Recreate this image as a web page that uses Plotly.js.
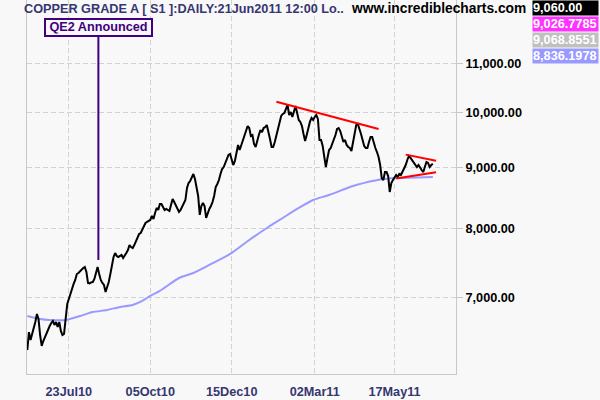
<!DOCTYPE html>
<html>
<head>
<meta charset="utf-8">
<script src="https://cdn.plot.ly/plotly-3.0.1.min.js"></script>
<style>html,body{margin:0;padding:0;background:#f8f8f8;}#chart{width:600px;height:400px;}</style>
</head>
<body>
<div id="chart"></div>
<script>
// ---- Data ----
var priceDates = ["2010-06-17","2010-06-18","2010-06-21","2010-06-22","2010-06-23","2010-06-24","2010-06-25","2010-06-28","2010-06-29","2010-06-30","2010-07-01","2010-07-02","2010-07-05","2010-07-06","2010-07-07","2010-07-08","2010-07-09","2010-07-12","2010-07-13","2010-07-14","2010-07-15","2010-07-16","2010-07-19","2010-07-20","2010-07-21","2010-07-22","2010-07-23","2010-07-26","2010-07-27","2010-07-28","2010-07-29","2010-07-30","2010-08-02","2010-08-03","2010-08-04","2010-08-05","2010-08-06","2010-08-09","2010-08-10","2010-08-11","2010-08-12","2010-08-13","2010-08-16","2010-08-17","2010-08-18","2010-08-19","2010-08-20","2010-08-23","2010-08-24","2010-08-25","2010-08-26","2010-08-27","2010-08-31","2010-09-01","2010-09-02","2010-09-03","2010-09-06","2010-09-07","2010-09-08","2010-09-09","2010-09-10","2010-09-13","2010-09-14","2010-09-15","2010-09-16","2010-09-17","2010-09-20","2010-09-21","2010-09-22","2010-09-23","2010-09-24","2010-09-27","2010-09-28","2010-09-29","2010-09-30","2010-10-01","2010-10-04","2010-10-05","2010-10-06","2010-10-07","2010-10-08","2010-10-11","2010-10-12","2010-10-13","2010-10-14","2010-10-15","2010-10-18","2010-10-19","2010-10-20","2010-10-21","2010-10-22","2010-10-25","2010-10-26","2010-10-27","2010-10-28","2010-10-29","2010-11-01","2010-11-02","2010-11-03","2010-11-04","2010-11-05","2010-11-08","2010-11-09","2010-11-10","2010-11-11","2010-11-12","2010-11-15","2010-11-16","2010-11-17","2010-11-18","2010-11-19","2010-11-22","2010-11-23","2010-11-24","2010-11-25","2010-11-26","2010-11-29","2010-11-30","2010-12-01","2010-12-02","2010-12-03","2010-12-06","2010-12-07","2010-12-08","2010-12-09","2010-12-10","2010-12-13","2010-12-14","2010-12-15","2010-12-16","2010-12-17","2010-12-20","2010-12-21","2010-12-22","2010-12-23","2010-12-24","2010-12-29","2010-12-30","2010-12-31","2011-01-04","2011-01-05","2011-01-06","2011-01-07","2011-01-10","2011-01-11","2011-01-12","2011-01-13","2011-01-14","2011-01-17","2011-01-18","2011-01-19","2011-01-20","2011-01-21","2011-01-24","2011-01-25","2011-01-26","2011-01-27","2011-01-28","2011-01-31","2011-02-01","2011-02-02","2011-02-03","2011-02-04","2011-02-07","2011-02-08","2011-02-09","2011-02-10","2011-02-11","2011-02-14","2011-02-15","2011-02-16","2011-02-17","2011-02-18","2011-02-21","2011-02-22","2011-02-23","2011-02-24","2011-02-25","2011-02-28","2011-03-01","2011-03-02","2011-03-03","2011-03-04","2011-03-07","2011-03-08","2011-03-09","2011-03-10","2011-03-11","2011-03-14","2011-03-15","2011-03-16","2011-03-17","2011-03-18","2011-03-21","2011-03-22","2011-03-23","2011-03-24","2011-03-25","2011-03-28","2011-03-29","2011-03-30","2011-03-31","2011-04-01","2011-04-04","2011-04-05","2011-04-06","2011-04-07","2011-04-08","2011-04-11","2011-04-12","2011-04-13","2011-04-14","2011-04-15","2011-04-18","2011-04-19","2011-04-20","2011-04-21","2011-04-26","2011-04-27","2011-04-28","2011-05-03","2011-05-04","2011-05-05","2011-05-06","2011-05-09","2011-05-10","2011-05-11","2011-05-12","2011-05-13","2011-05-16","2011-05-17","2011-05-18","2011-05-19","2011-05-20","2011-05-23","2011-05-24","2011-05-25","2011-05-26","2011-05-27","2011-05-31","2011-06-01","2011-06-02","2011-06-03","2011-06-06","2011-06-07","2011-06-08","2011-06-09","2011-06-10","2011-06-13","2011-06-14","2011-06-15","2011-06-16","2011-06-17","2011-06-20","2011-06-21"];
var priceValues = [6329,6550,6451,6530,6577,6680,6783,6718,6514,6378,6439,6489,6540,6577,6628,6667,6692,6641,6680,6615,6680,6565,6514,6527,6757,6916,6983,7051,7146,7188,7243,7327,7341,7370,7384,7413,7427,7356,7202,7195,7210,7215,7257,7356,7427,7327,7243,7202,7174,7078,7146,7215,7327,7456,7572,7630,7586,7572,7586,7601,7557,7586,7630,7674,7748,7718,7703,7748,7809,7855,7915,7930,7991,8038,8085,8101,8117,8132,8195,8148,8243,8322,8290,8386,8386,8338,8290,8306,8290,8274,8370,8467,8418,8354,8290,8259,8290,8338,8402,8451,8649,8732,8766,8834,8885,8800,8665,8517,8211,8354,8402,8354,8163,8243,8306,8354,8418,8517,8665,8716,8783,8885,8971,9006,9076,9147,9218,9236,9129,9041,9112,9253,9397,9306,9397,9488,9597,9672,9747,9709,9561,9579,9415,9361,9488,9579,9672,9634,9709,9728,9766,9653,9506,9361,9361,9452,9579,9672,9824,9937,9976,9995,10073,10150,9956,10014,9918,10053,10131,9995,9862,9824,9747,9597,9470,9579,9728,9824,9900,9862,9918,9956,9880,9488,9488,9379,9182,9006,9165,9306,9342,9415,9488,9579,9691,9709,9653,9524,9452,9488,9397,9361,9342,9288,9452,9634,9766,9785,9709,9597,9488,9379,9342,9342,9452,9543,9543,9433,9342,9270,9182,9041,8817,8783,8919,8919,8851,8583,8732,8783,8834,8868,8834,8885,8868,8919,8971,9041,9129,9200,9165,9129,9076,9059,9006,9041,8989,8954,8919,8989,9094,9076,9006,9041,9060];

var maDates = ["2010-06-17","2010-06-29","2010-07-07","2010-07-21","2010-08-03","2010-08-13","2010-08-26","2010-09-08","2010-09-20","2010-09-28","2010-10-05","2010-10-13","2010-10-29","2010-11-11","2010-11-25","2010-12-14","2011-01-04","2011-01-20","2011-02-02","2011-02-16","2011-03-01","2011-03-15","2011-04-01","2011-04-07","2011-05-04","2011-05-18","2011-05-31","2011-06-21"];
var maValues = [6757,6718,6705,6705,6757,6809,6836,6876,6903,6957,7024,7092,7271,7341,7456,7616,7824,8022,8163,8322,8451,8533,8666,8699,8791,8817,8820,8836];

var trendTopDates = ["2011-01-27","2011-05-03"];
var trendTopValues = [10215,9691];
var triUpperDates = ["2011-05-26","2011-06-23"];
var triUpperValues = [9224,9115];
var triLowerDates = ["2011-05-18","2011-06-23"];
var triLowerValues = [8808,8915];

var tickDates = ["2010-07-23","2010-10-05","2010-12-15","2011-03-02","2011-05-17"];
var tickLabels = ["23Jul10","05Oct10","15Dec10","02Mar11","17May11"];
var yTickValues = [7000,8000,9000,10000,11000];
var yTickLabels = ["7,000.00","8,000.00","9,000.00","10,000.00","11,000.00"];

var holidays = ["2010-08-30","2010-12-27","2010-12-28","2011-01-03","2011-04-22","2011-04-25","2011-04-29","2011-05-02","2011-05-30"];

var readouts = ["9,060.00","9,026.7785","9,068.8551","8,836.1978"];
var readoutColors = ["#000000","#ff33ff","#c0c0c0","#9999ff"];

var qe2Date = "2010-08-18 12:00";
var qe2Value = 7528;

var titleText = "COPPER GRADE A [ S1 ]:DAILY:21Jun2011 12:00 Lo..";
var siteText = "www.incrediblecharts.com";

// ---- Chart ----
var FONT = "'Liberation Sans', Arial, Helvetica, sans-serif";
var navy = "#363670";
var purple = "#40007f";

var traces = [
  {x: maDates, y: maValues, type: "scatter", mode: "lines",
   line: {color: "#9999ff", width: 2, shape: "spline", smoothing: 0.6}, hoverinfo: "skip"},
  {x: priceDates, y: priceValues, type: "scatter", mode: "lines",
   line: {color: "#000000", width: 2}, hoverinfo: "skip"},
  {x: trendTopDates, y: trendTopValues, type: "scatter", mode: "lines",
   line: {color: "#ff0000", width: 2}, hoverinfo: "skip"},
  {x: triUpperDates, y: triUpperValues, type: "scatter", mode: "lines",
   line: {color: "#ff0000", width: 2}, hoverinfo: "skip"},
  {x: triLowerDates, y: triLowerValues, type: "scatter", mode: "lines",
   line: {color: "#ff0000", width: 2}, hoverinfo: "skip"}
];

var L = 27, R = 456, T = 0, B = 374;
function px(xp) { return (xp - L) / (R - L); }
function py(yp) { return (B - yp) / (B - T); }

var annotations = [
  {xref: "paper", yref: "paper", x: px(21.5), y: py(8.6), xanchor: "left", yanchor: "middle",
   text: "<b>" + titleText + "</b>", showarrow: false,
   font: {family: FONT, size: 12.7, color: navy}},
  {xref: "paper", yref: "paper", x: px(349), y: py(8.6), xanchor: "left", yanchor: "middle",
   text: "<b>" + siteText + "</b>", showarrow: false,
   font: {family: FONT, size: 13.8, color: "#000000"}},
  {xref: "x", yref: "y", x: qe2Date, y: Math.log10(qe2Value),
   text: "<b>QE2 Announced</b>", showarrow: true, arrowhead: 0, arrowwidth: 2,
   arrowcolor: purple, ax: 0, ay: -232.5, standoff: 0,
   bordercolor: purple, borderwidth: 2, borderpad: 1, bgcolor: "#f8f8f8",
   width: 103, height: 12.5,
   font: {family: FONT, size: 12.7, color: purple}}
];
var boxCenters = [8.4, 24.2, 40.0, 55.8];
for (var i = 0; i < readouts.length; i++) {
  annotations.push({
    xref: "paper", yref: "paper", x: px(532), y: py(boxCenters[i]),
    xanchor: "left", yanchor: "middle", showarrow: false,
    text: "<b>" + readouts[i] + "</b>", align: "left",
    bgcolor: readoutColors[i], borderpad: 0, width: 65, height: 14,
    font: {family: FONT, size: 12.7, color: "#ffffff"}
  });
}

var layout = {
  width: 600, height: 400,
  margin: {l: L, r: 600 - R, t: T, b: 400 - B, pad: 0},
  paper_bgcolor: "#f8f8f8", plot_bgcolor: "#f8f8f8",
  showlegend: false,
  xaxis: {
    type: "date",
    range: ["2010-06-16 19:00", "2011-07-11 12:00"],
    rangebreaks: [{bounds: ["sat", "mon"]}, {values: holidays}],
    tickmode: "array", tickvals: tickDates, ticktext: tickLabels,
    showgrid: true, gridcolor: "#d2d2d2", gridwidth: 1, griddash: "5px,3px",
    showline: true, linecolor: "#c8c8c8", linewidth: 1, mirror: false,
    ticks: "outside", ticklen: 6, tickcolor: "rgba(0,0,0,0)",
    tickfont: {family: FONT, size: 12.7, color: navy, weight: "bold"},
    zeroline: false, fixedrange: true
  },
  yaxis: {
    type: "log", side: "right",
    range: [3.7812, 4.0944],
    tickmode: "array", tickvals: yTickValues, ticktext: yTickLabels,
    showgrid: true, gridcolor: "#d2d2d2", gridwidth: 1, griddash: "5px,3px",
    showline: true, linecolor: "#c8c8c8", linewidth: 1, mirror: true,
    ticks: "outside", ticklen: 6, tickcolor: "#c8c8c8",
    tickfont: {family: FONT, size: 12.7, color: "#000000", weight: "bold"},
    zeroline: false, fixedrange: true
  },
  annotations: annotations
};

Plotly.newPlot("chart", traces, layout, {displayModeBar: false, staticPlot: true});
</script>
</body>
</html>
